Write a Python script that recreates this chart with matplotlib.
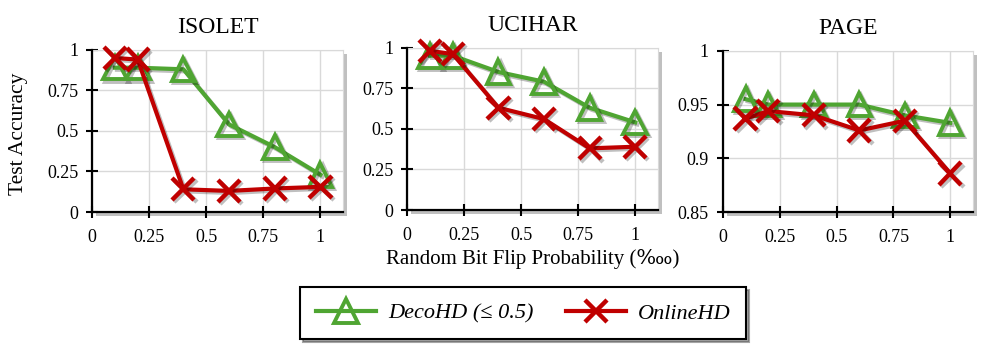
import numpy as np
import matplotlib
matplotlib.use("Agg")
import matplotlib.pyplot as plt
import matplotlib.patheffects as pe
from matplotlib.ticker import FuncFormatter

plt.rcParams['font.family'] = ['Liberation Serif', 'DejaVu Serif']

# data
flip_prob = [0.1, 0.2, 0.4, 0.6, 0.8, 1.0]
datasets = ["ISOLET", "UCIHAR", "PAGE"]
deco_isolet = [0.89, 0.89, 0.88, 0.54, 0.40, 0.23]
online_isolet = [0.95, 0.94, 0.14, 0.13, 0.145, 0.155]
deco_ucihar = [0.95, 0.95, 0.85, 0.79, 0.63, 0.54]
online_ucihar = [0.98, 0.96, 0.63, 0.56, 0.38, 0.39]
deco_page = [0.955, 0.950, 0.950, 0.950, 0.940, 0.933]
online_page = [0.937, 0.944, 0.940, 0.926, 0.935, 0.886]
deco_all = [deco_isolet, deco_ucihar, deco_page]
online_all = [online_isolet, online_ucihar, online_page]
y_ranges = [(0, 1), (0, 1), (0.85, 1)]
y_ticks = [[0, 0.25, 0.5, 0.75, 1], [0, 0.25, 0.5, 0.75, 1], [0.85, 0.9, 0.95, 1]]
x_ticks = [0, 0.25, 0.5, 0.75, 1]

green = '#4FA532'
red = '#C00000'

fig = plt.figure(figsize=(9.97, 3.45), dpi=100)
boxes = [[0.0923, 0.3855, 0.252, 0.470],
         [0.4085, 0.391, 0.2515, 0.471],
         [0.725, 0.3846, 0.251, 0.4684]]

fmt = FuncFormatter(lambda v, p: ('%g' % round(v, 3)))
shadow = [pe.SimpleLineShadow(offset=(1.5, -1.5), shadow_color='k', alpha=0.25), pe.Normal()]

for i in range(3):
    ax = fig.add_axes(boxes[i])
    ax.patch.set_path_effects([pe.SimplePatchShadow(offset=(3, -3), alpha=0.35), pe.Normal()])
    ax.plot(flip_prob, deco_all[i], color=green, lw=3, marker='^', ms=17,
            mfc='none', mew=2.8, clip_on=False, path_effects=shadow, zorder=3)
    ax.plot(flip_prob, online_all[i], color=red, lw=3, marker='x', ms=16,
            mew=3.2, clip_on=False, path_effects=shadow, zorder=4)
    ax.set_xlim(0, 1.1)
    ax.set_ylim(*y_ranges[i])
    ax.set_xticks(x_ticks)
    ax.set_yticks(y_ticks[i])
    ax.xaxis.set_major_formatter(fmt)
    ax.yaxis.set_major_formatter(fmt)
    ax.grid(True, color='#D9D9D9', lw=1)
    ax.set_axisbelow(True)
    for s in ['top', 'right']:
        ax.spines[s].set_color('#D9D9D9')
    for s in ['left', 'bottom']:
        ax.spines[s].set_color('black')
        ax.spines[s].set_linewidth(1.6)
        ax.spines[s].set_zorder(5)
    ax.tick_params(direction='inout', length=8, width=1.5, labelsize=13)
    ax.tick_params(axis='x', pad=8)
    ax.tick_params(axis='y', pad=6)
    ax.set_title(datasets[i], fontsize=17, pad=12)
    if i == 0:
        ax.set_ylabel("Test Accuracy", fontsize=15.5)
        ax.yaxis.set_label_coords(-0.255, 0.48)
    if i == 1:
        ax.set_xlabel("Random Bit Flip Probability (\u2031)", fontsize=15)
        ax.xaxis.set_label_coords(0.5, -0.24)

h1, = plt.plot([], [], color=green, lw=3, marker='^', ms=17, mfc='none', mew=2.8)
h2, = plt.plot([], [], color=red, lw=3, marker='x', ms=16, mew=3.2)
leg = fig.legend([h1, h2], ["DecoHD (\u2264 0.5)", "OnlineHD"], loc='center',
                 bbox_to_anchor=(0.525, 0.092), ncol=2, frameon=True, fancybox=False,
                 shadow=True, edgecolor='black', handlelength=2.7, handletextpad=0.55,
                 columnspacing=1.45, borderpad=0.7, prop={'style': 'italic', 'size': 16})
leg.get_frame().set_linewidth(1.5)

fig.savefig("out.png", dpi=100)
